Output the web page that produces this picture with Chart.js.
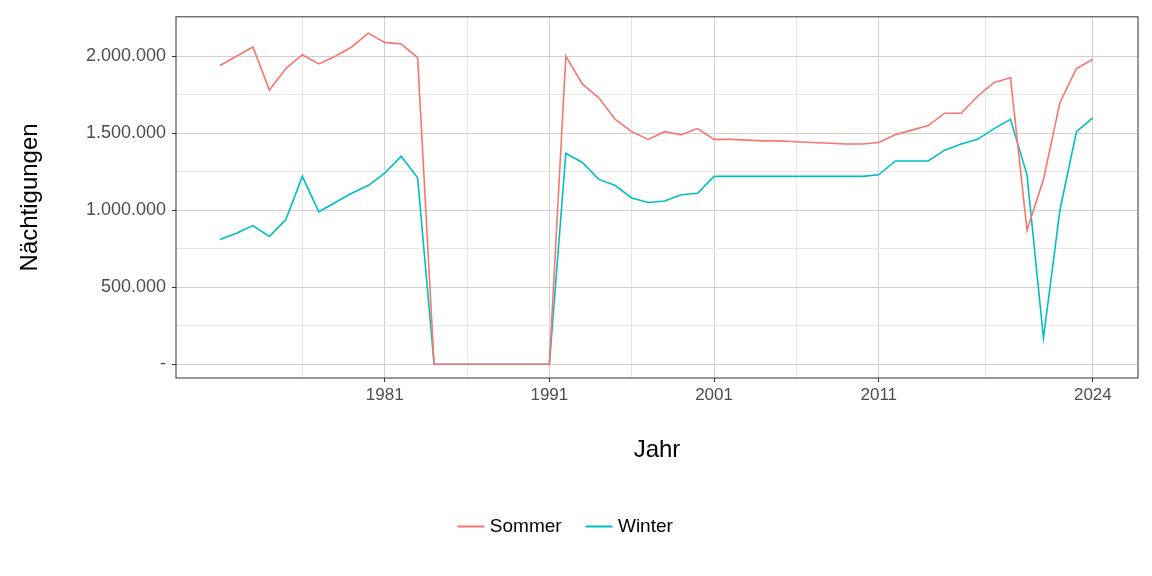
<!DOCTYPE html><html><head><meta charset="utf-8">
<script src="https://cdn.jsdelivr.net/npm/chart.js@4"></script>
<style>body{margin:0;background:#fff}#w{width:1152px;height:576px}</style></head><body><div id="w"><canvas id="c"></canvas></div>
<script>
const years=[];for(let y=1971;y<=2024;y++)years.push(y);
const sommer=[1.94,2.0,2.06,1.78,1.92,2.01,1.95,2.0,2.06,2.15,2.09,2.08,1.99,0,0,0,0,0,0,0,0,2.0,1.82,1.73,1.59,1.51,1.46,1.51,1.49,1.53,1.46,1.46,1.455,1.45,1.45,1.445,1.44,1.435,1.43,1.43,1.44,1.49,1.52,1.55,1.63,1.63,1.74,1.83,1.86,0.87,1.2,1.7,1.92,1.98].map(v=>v*1e6);
const winter=[0.81,0.85,0.9,0.83,0.94,1.22,0.99,1.05,1.11,1.16,1.24,1.35,1.21,0,0,0,0,0,0,0,0,1.37,1.31,1.2,1.16,1.08,1.05,1.06,1.1,1.11,1.22,1.22,1.22,1.22,1.22,1.22,1.22,1.22,1.22,1.22,1.23,1.32,1.32,1.32,1.39,1.43,1.46,1.53,1.59,1.23,0.17,1.0,1.51,1.6].map(v=>v*1e6);
const xTicks=[1976,1981,1986,1991,1996,2001,2006,2011,2017.5,2024];
const xLabels={1981:'1981',1991:'1991',2001:'2001',2011:'2011',2024:'2024'};
const yTicks=[0,250000,500000,750000,1000000,1250000,1500000,1750000,2000000];
const fmt=v=>v===0?'-':(v%500000===0?v.toLocaleString('de-DE'):'');
const border={id:'b',afterDraw(c){const a=c.chartArea,x=c.ctx;x.save();x.strokeStyle='#333';x.lineWidth=1;x.strokeRect(a.left,a.top,a.right-a.left,a.bottom-a.top);x.restore();}};
new Chart(document.getElementById('c'),{type:'line',
data:{datasets:[{label:'Sommer',data:years.map((y,i)=>({x:y,y:sommer[i]})),borderColor:'#F8766D',backgroundColor:'#F8766D'},
{label:'Winter',data:years.map((y,i)=>({x:y,y:winter[i]})),borderColor:'#00BFC4',backgroundColor:'#00BFC4'}]},
options:{responsive:true,maintainAspectRatio:false,animation:false,
elements:{point:{radius:0},line:{borderWidth:1.6,tension:0}},
layout:{padding:{top:14,right:14,bottom:30,left:12}},
plugins:{legend:{position:'bottom',labels:{usePointStyle:true,pointStyle:'line',boxWidth:38,padding:12,color:'#000',font:{family:'Liberation Sans, Arial',size:19},generateLabels:ch=>ch.data.datasets.map((d,i)=>({text:d.label+'   ',strokeStyle:d.borderColor,fillStyle:d.borderColor,lineWidth:2,pointStyle:'line',datasetIndex:i,fontColor:'#000'}))}},tooltip:{enabled:false}},
scales:{
x:{type:'linear',min:1968.33,max:2026.74,afterBuildTicks:s=>{s.ticks=xTicks.map(v=>({value:v}));},
afterFit:s=>{s.height=127;},
ticks:{autoSkip:false,maxRotation:0,color:'#4d4d4d',font:{family:'Liberation Sans, Arial',size:17},callback:v=>xLabels[v]||''},
grid:{color:c=>xLabels[c.tick.value]?'#d0d0d0':'#e6e6e6',drawTicks:true,tickLength:4,tickColor:c=>xLabels[c.tick.value]?'#333':'rgba(0,0,0,0)'},border:{display:false},
title:{display:true,text:'Jahr',color:'#000',font:{family:'Liberation Sans, Arial',size:24},padding:{top:16,bottom:40}}},
y:{min:-89500,max:2256000,afterBuildTicks:s=>{s.ticks=yTicks.map(v=>({value:v}));},
afterFit:s=>{s.width=164;},
ticks:{autoSkip:false,color:'#4d4d4d',font:{family:'Liberation Sans, Arial',size:18},callback:fmt,padding:6},
grid:{color:c=>c.tick.value%500000===0?'#d0d0d0':'#e6e6e6',tickLength:4,tickColor:c=>c.tick.value%500000===0?'#333':'rgba(0,0,0,0)'},border:{display:false},
title:{display:true,text:'Nächtigungen',color:'#000',font:{family:'Liberation Sans, Arial',size:24},padding:{bottom:12}}}}},
plugins:[border]});
</script></body></html>
